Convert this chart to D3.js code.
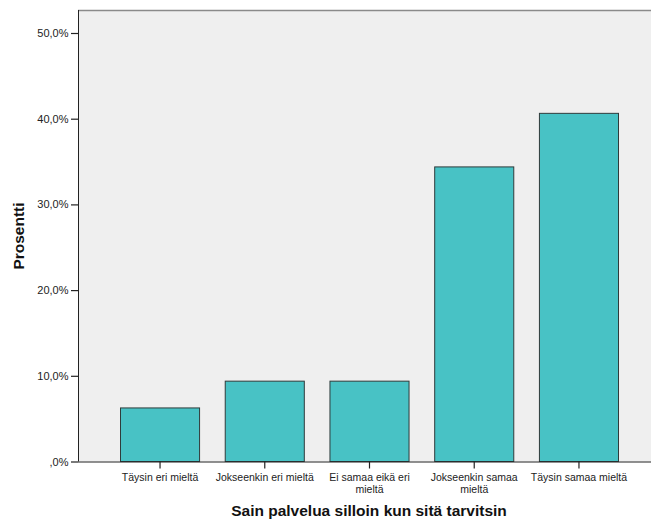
<!DOCTYPE html>
<html><head><meta charset="utf-8">
<script src="https://cdn.jsdelivr.net/npm/d3@7"></script>
<style>body{margin:0;background:#fff}svg{display:block}text{font-family:"Liberation Sans",Arial,sans-serif}</style>
</head><body><svg id="c" width="651" height="522"></svg>
<script>
const categories = ["Täysin eri mieltä","Jokseenkin eri mieltä","Ei samaa eikä eri mieltä","Jokseenkin samaa mieltä","Täysin samaa mieltä"];
const values = [6.25, 9.375, 9.375, 34.375, 40.625];
const yTicks = [0, 10, 20, 30, 40, 50];
const yTickLabels = [",0%", "10,0%", "20,0%", "30,0%", "40,0%", "50,0%"];
const xTitle = "Sain palvelua silloin kun sitä tarvitsin";
const yTitle = "Prosentti";

(function() {
const svg = d3.select("#c");
const pL = 78, pR = 651, pT = 10, pB = 461.5;
const y = d3.scaleLinear().domain([0, 50]).range([pB, 33]);
const x = d3.scaleBand().domain(categories).range([120, 618]).paddingInner(0.245).paddingOuter(0);

svg.append("rect").attr("x", pL).attr("y", pT).attr("width", pR - pL).attr("height", pB - pT).attr("fill", "#efefef");
svg.append("line").attr("x1", pL).attr("x2", pR).attr("y1", pT + 0.5).attr("y2", pT + 0.5).attr("stroke", "#8a8a8a").attr("stroke-width", 1.5);

svg.selectAll("rect.bar").data(values).enter().append("rect").attr("class", "bar")
  .attr("x", (d, i) => x(categories[i]) + 0.5)
  .attr("y", d => y(d))
  .attr("width", x.bandwidth())
  .attr("height", d => pB - y(d))
  .attr("fill", "#48c2c5").attr("stroke", "#2f3b3b").attr("stroke-width", 1);

// y axis
const yAxis = d3.axisLeft(y).tickValues(yTicks).tickSize(7).tickFormat((d, i) => yTickLabels[i]);
const gy = svg.append("g").attr("transform", `translate(${pL},0)`).call(yAxis);
gy.select(".domain").attr("stroke", "#222").attr("d", `M0.5,${pT}V${pB}`);
gy.selectAll(".tick line").attr("stroke", "#222").attr("stroke-width", 1.2);
gy.selectAll(".tick text").attr("font-size", 11).attr("fill", "#222").attr("x", -9.5).attr("font-family", "Liberation Sans, Arial, sans-serif");

// x axis
const xAxis = d3.axisBottom(x).tickSize(7).tickSizeOuter(0);
const gx = svg.append("g").attr("transform", `translate(0.5,${pB})`).call(xAxis);
gx.select(".domain").attr("stroke", "#222").attr("d", `M${pL - 0.5},0.5H${pR}`);
gx.selectAll(".tick line").attr("stroke", "#222").attr("stroke-width", 1.2);
gx.selectAll(".tick").each(function(d) {
  const g = d3.select(this);
  g.select("text").remove();
  const words = d.split(" ");
  const mk = (s, k) => g.append("text").attr("text-anchor", "middle").attr("x", 0)
    .attr("y", 19 + k * 12.3).attr("font-size", 10.5).attr("fill", "#222")
    .attr("font-family", "Liberation Sans, Arial, sans-serif").text(s);
  let line = [], k = 0;
  let t = mk("", k);
  for (const w of words) {
    line.push(w);
    t.text(line.join(" "));
    if (t.node().getComputedTextLength() > 106 && line.length > 1) {
      line.pop(); t.text(line.join(" "));
      line = [w]; k++;
      t = mk(w, k);
    }
  }
});

svg.append("text").attr("x", 369).attr("y", 516).attr("text-anchor", "middle")
  .attr("font-size", 15.5).attr("font-weight", "bold").attr("fill", "#111").text(xTitle);
svg.append("text").attr("transform", "translate(23.5,236) rotate(-90)").attr("text-anchor", "middle")
  .attr("font-size", 15.5).attr("font-weight", "bold").attr("fill", "#111").text(yTitle);
})();
</script></body></html>
